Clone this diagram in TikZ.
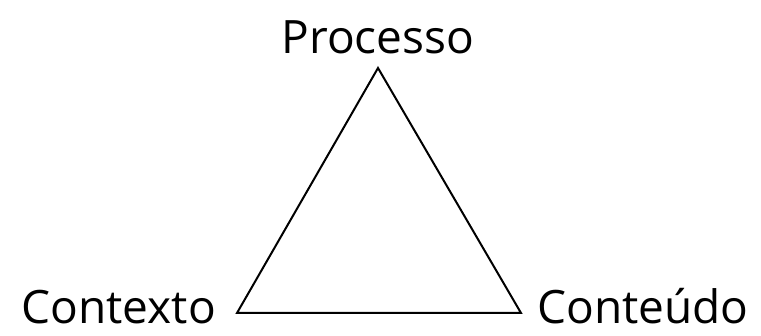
\documentclass[tikz,border=0pt]{standalone}
\usepackage{fontspec}
\setmainfont{Open Sans}
\usetikzlibrary{positioning}

\begin{document}
\begin{tikzpicture}[x=1pt, y=1pt, every node/.style={inner sep=0pt, font=\fontsize{46}{56}\selectfont}]
\useasboundingbox (0,0) rectangle (761,336);
\coordinate (top) at (378,268);
\coordinate (left) at (237,23);
\coordinate (right) at (521,23);
\draw[line width=2pt, line join=miter] (top) -- (left) -- (right) -- cycle;
\node (proc) [anchor=base] at (378,282) {Processo};
\node (ctx) [anchor=base east] at (216,12) {Contexto};
\node (cont) [anchor=base west] at (537,12) {Conteúdo};
\end{tikzpicture}
\end{document}
